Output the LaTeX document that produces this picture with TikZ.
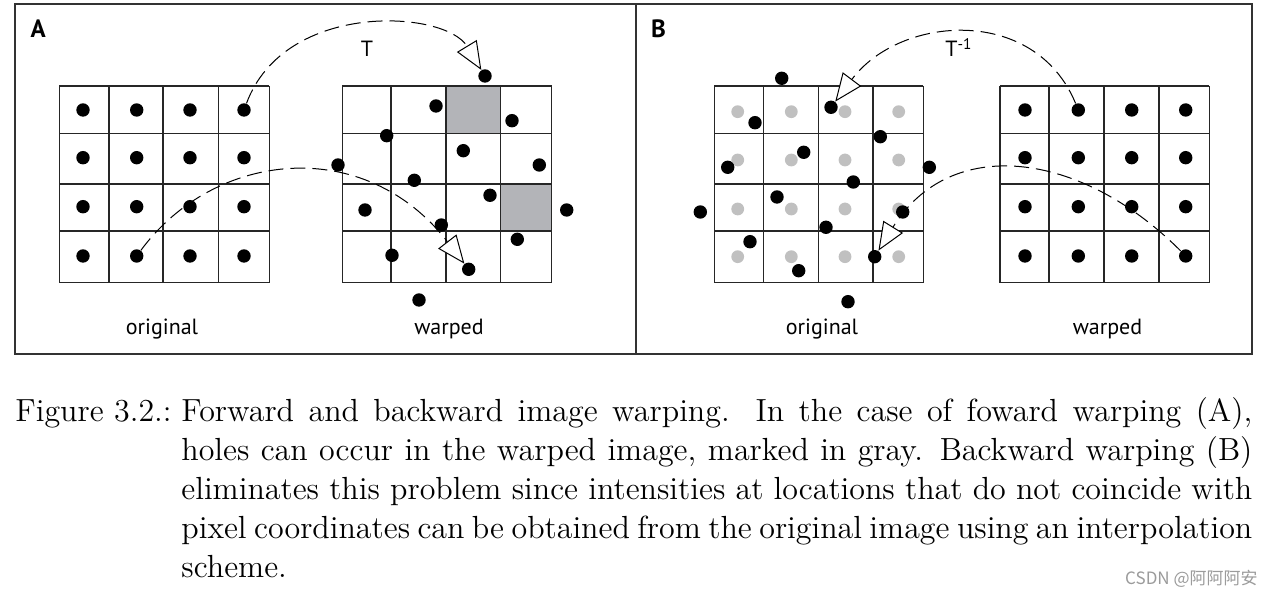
\documentclass[tikz,border=0pt]{standalone}
\usepackage{fontspec}
\newfontfamily\panelfont{PT Sans}
\newfontfamily\cjkfont{Noto Sans CJK SC}
\newfontfamily\capfont{lmroman12-regular.otf}
\usetikzlibrary{arrows.meta}
\definecolor{holegray}{RGB}{179,180,184}
\definecolor{ghostgray}{RGB}{192,192,192}
\definecolor{framegray}{RGB}{50,50,50}
\definecolor{wmgray}{RGB}{155,155,155}
\begin{document}
\begin{tikzpicture}[x=0.5pt,y=-0.5pt,
  dot/.style={circle,fill=black,inner sep=0pt,minimum size=6.7pt},
  ghost/.style={circle,fill=ghostgray,inner sep=0pt,minimum size=6.4pt},
  gridline/.style={line width=0.55pt, draw=black!85},
  frameline/.style={line width=0.6pt, draw=framegray},
  warp/.style={line width=0.5pt, dash pattern=on 7.5pt off 3.5pt,
    -{Triangle[length=14pt,width=11.5pt,fill=white,line width=0.5pt]}},
  lbl/.style={font=\panelfont\fontsize{11}{13}\selectfont, inner sep=0pt, anchor=base},
  panel/.style={font=\panelfont\fontsize{12.5}{14}\selectfont\bfseries, inner sep=0pt},
  capline/.style={font=\capfont\fontsize{16}{19.5}\selectfont, inner sep=0pt, anchor=base west}
]
\useasboundingbox (0,0) rectangle (1273,597);
\fill[white] (0,0) rectangle (1273,597);

% frames
\draw[frameline] (15,4) rectangle (1252,354);
\draw[frameline] (636,4) -- (636,354);

% holes in warped image A
\fill[holegray] (446,86) rectangle (500.7,133.3);
\fill[holegray] (500.7,184) rectangle (551.7,231);

% grids
\foreach \xa/\xb/\xc/\xd/\xe in {59.3/109/163/218.7/269.3, 342.3/391/446/500.7/551.7, 714.3/763.3/818.3/873/923.3, 1000/1049/1104/1159/1209.3}{
  \foreach \x in {\xa,\xb,\xc,\xd,\xe} \draw[gridline] (\x,86) -- (\x,282.7);
  \foreach \y in {86,133.3,184,231,282.7} \draw[gridline] (\xa,\y) -- (\xe,\y);
}

% A original dots
\foreach \c/\x in {1/83,2/136.7,3/190,4/244}
  \foreach \r/\y in {1/110,2/157.7,3/206.7,4/256}
    \node[dot] (ao\r\c) at (\x,\y) {};

% A warped dots
\foreach \i/\x/\y in {1/485/76, 2/436/106, 3/512/120.7, 4/386.7/135.7, 5/463.3/150.7, 6/338/165,
  7/539.3/165, 8/414.3/180.3, 9/490/195.3, 10/365/210, 11/566.7/210, 12/441.3/225,
  13/517.3/239.3, 14/392/255.3, 15/468.7/269.3, 16/419/300}
  \node[dot] (aw\i) at (\x,\y) {};

% B original: ghost pixel centres
\foreach \c/\x in {1/737.7,2/791.3,3/845,4/898.7}
  \foreach \r/\y in {1/111.7,2/160,3/209,4/256.7}
    \node[ghost] (bg\r\c) at (\x,\y) {};

% B original: back-projected dots
\foreach \i/\x/\y in {1/781.7/78.3, 2/831/107.3, 3/755/122.7, 4/880.3/136.7, 5/803.7/152.3,
  6/727.7/167.3, 7/929.3/167.3, 8/853.3/182, 9/777/197, 10/700.3/212, 11/902.7/212,
  12/826/227.3, 13/750/241.7, 14/874.7/256.7, 15/798.7/270.7, 16/848/301.7}
  \node[dot] (bo\i) at (\x,\y) {};

% B warped dots
\foreach \c/\x in {1/1025,2/1078.3,3/1131.7,4/1185.7}
  \foreach \r/\y in {1/110,2/157.7,3/206.7,4/256}
    \node[dot] (bw\r\c) at (\x,\y) {};

% mappings
\draw[warp] (ao14) .. controls (285,0) and (445,10) .. (aw1);
\draw[warp] (ao42) .. controls (215,150) and (365,135) .. (aw15);
\draw[warp] (bw12) .. controls (1035,5) and (900,15) .. (bo2);
\draw[warp] (bw44) .. controls (1080,150) and (950,135) .. (bo14);

% labels
\node[panel] (pA) at (38.3,28.5) {A};
\node[panel] (pB) at (658.5,28.5) {B};
\node[lbl] (tT) at (367,57) {T};
\node[lbl, anchor=base west] (tTi) at (945,57) {T\textsuperscript{-1}};
\node[lbl] (lao) at (162,335) {original};
\node[lbl] (law) at (449,335) {warped};
\node[lbl] (lbo) at (822,335) {original};
\node[lbl] (lbw) at (1107.5,335) {warped};

% caption
\node[capline] (figlbl) at (15,422) {Figure 3.2.:};
\node[capline] (cap1) at (181,422) {\makebox[535.5pt][s]{Forward and backward image warping.  In the case of foward warping (A),}};
\node[capline] (cap2) at (181,461) {\makebox[535.5pt][s]{holes can occur in the warped image, marked in gray.  Backward warping (B)}};
\node[capline] (cap3) at (181,500) {\makebox[535.5pt][s]{eliminates this problem since intensities at locations that do not coincide with}};
\node[capline] (cap4) at (181,539) {\makebox[535.5pt][s]{pixel coordinates can be obtained from the original image using an interpolation}};
\node[capline] (cap5) at (181,578) {scheme.};

% watermark
\node[font=\cjkfont\fontsize{8.5}{10}\selectfont, text=wmgray, anchor=base east, inner sep=0pt] (wm) at (1258,585) {CSDN @阿阿阿安};
\end{tikzpicture}
\end{document}
